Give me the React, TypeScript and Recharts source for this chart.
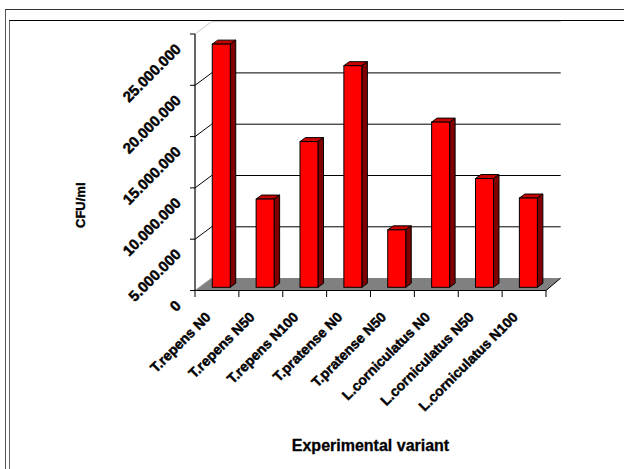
import React from 'react';
import { BarChart, Bar, XAxis, YAxis, CartesianGrid, Label } from 'recharts';

const categories = [
  'T.repens N0',
  'T.repens N50',
  'T.repens N100',
  'T.pratense N0',
  'T.pratense N50',
  'L.corniculatus N0',
  'L.corniculatus N50',
  'L.corniculatus N100',
];
const cfuValues = [23700000, 8600000, 14200000, 21600000, 5600000, 16100000, 10600000, 8700000];
const yTicks = [0, 5000000, 10000000, 15000000, 20000000, 25000000];

const data = categories.map((name, i) => ({ name, cfu: cfuValues[i] }));

const FONT = "'Liberation Sans', Arial, Helvetica, sans-serif";
const DEPTH_X = 16.7;
const DEPTH_Y = 12.4;
const BAR_SHIFT_X = 4.3;
const BAR_SHIFT_Y = 3.2;
const BAR_DX = 5.5;
const BAR_DY = 4;

const fmt = (v: number) => String(v).replace(/\B(?=(\d{3})+(?!\d))/g, '.');

function Bar3D(props: any) {
  const { x, y, width, height } = props;
  if (x == null || y == null) return null;
  const fx = x + BAR_SHIFT_X;
  const fy = y - BAR_SHIFT_Y;
  const bottom = fy + height;
  return (
    <g>
      <polygon
        points={`${fx},${fy} ${fx + BAR_DX},${fy - BAR_DY} ${fx + width + BAR_DX},${fy - BAR_DY} ${fx + width},${fy}`}
        fill="#c80000"
        stroke="#000"
        strokeWidth={1}
        strokeLinejoin="round"
      />
      <polygon
        points={`${fx + width},${fy} ${fx + width + BAR_DX},${fy - BAR_DY} ${fx + width + BAR_DX},${bottom - BAR_DY} ${fx + width},${bottom}`}
        fill="#800000"
        stroke="#000"
        strokeWidth={1}
        strokeLinejoin="round"
      />
      <rect x={fx} y={fy} width={width} height={height} fill="#ff0000" stroke="#000" strokeWidth={1} />
    </g>
  );
}

function GridLine(props: any) {
  const { x1, x2, y1 } = props;
  const top = props.y != null ? props.y : 34;
  const h = props.height != null ? props.height : 256.5;
  const isBottom = Math.abs(y1 - (top + h)) < 0.6;
  const isTop = Math.abs(y1 - top) < 0.6;
  const bx1 = x1 + DEPTH_X;
  const bx2 = x2 + DEPTH_X - 2;
  const by = y1 - DEPTH_Y;
  if (isBottom) {
    return (
      <g>
        <polygon points={`${x1},${y1} ${x2},${y1} ${bx2},${by} ${bx1},${by}`} fill="#808080" stroke="none" />
        <line x1={x1} y1={y1} x2={bx1} y2={by} stroke="#a0a0a0" strokeWidth={1} />
        <line x1={x2} y1={y1} x2={bx2} y2={by} stroke="#000" strokeWidth={1} />
      </g>
    );
  }
  const col = isTop ? '#c8c8c8' : '#000';
  return (
    <g>
      <line x1={x1} y1={y1} x2={bx1} y2={by} stroke={col} strokeWidth={1} />
      <line x1={bx1} y1={by} x2={bx2} y2={by} stroke={col} strokeWidth={1} />
    </g>
  );
}

const heavy = { stroke: '#000', strokeWidth: 0.45, paintOrder: 'stroke' as any };

function YTick(props: any) {
  const { x, y, payload } = props;
  return (
    <text
      transform={`translate(${x - 8},${y + 16}) rotate(-45)`}
      textAnchor="end"
      fontFamily={FONT}
      fontWeight="bold"
      fontSize={15}
      fill="#000"
      {...heavy}
    >
      {fmt(payload.value)}
    </text>
  );
}

function XTick(props: any) {
  const { x, y, payload, index } = props;
  const w = props.width != null ? props.width : 351;
  const bw = w / categories.length;
  return (
    <g>
      <line x1={x - bw / 2} y1={y} x2={x - bw / 2} y2={y + 6.5} stroke="#000" strokeWidth={1} />
      {index === categories.length - 1 ? (
        <line x1={x + bw / 2} y1={y} x2={x + bw / 2} y2={y + 6.5} stroke="#000" strokeWidth={1} />
      ) : null}
      <text
        transform={`translate(${x - 5.4},${y + 27.5}) rotate(-45)`}
        textAnchor="end"
        fontFamily={FONT}
        fontWeight="bold"
        fontSize={14}
        fill="#000"
        {...heavy}
      >
        {payload.value}
      </text>
    </g>
  );
}

export default function App() {
  return (
    <div style={{ position: 'absolute', left: 0, top: 0, width: 624, height: 469, background: '#fff', overflow: 'hidden' }}>
      <div style={{ position: 'absolute', left: 5, top: 9, width: 700, height: 600, borderLeft: '1.5px solid #555', borderTop: '1.6px solid #333' }} />
      <div style={{ position: 'absolute', left: 9, top: 20, width: 700, height: 600, borderLeft: '1.5px solid #666', borderTop: '1.4px solid #000' }} />
      <div style={{ position: 'absolute', left: 0, top: 0 }}>
        <BarChart
          width={624}
          height={469}
          data={data}
          margin={{ top: 34, right: 78, bottom: 38.5, left: 65 }}
          barCategoryGap="29.5%"
        >
          <CartesianGrid horizontal={GridLine as any} vertical={false} />
          <XAxis
            dataKey="name"
            interval={0}
            height={140}
            tickLine={false}
            tickSize={0}
            tickMargin={0}
            axisLine={{ stroke: '#000', strokeWidth: 1.2 }}
            tick={<XTick />}
          >
            <Label
              content={(p: any) => {
                const vb = p.viewBox || { x: 195, y: 290.5, width: 351 };
                return (
                  <text
                    x={vb.x + vb.width / 2}
                    y={vb.y + 160}
                    textAnchor="middle"
                    fontFamily={FONT}
                    fontWeight="bold"
                    fontSize={16}
                    fill="#000"
                    stroke="#000"
                    strokeWidth={0.3}
                  >
                    Experimental variant
                  </text>
                );
              }}
            />
          </XAxis>
          <YAxis
            width={130}
            domain={[0, 25000000]}
            ticks={yTicks}
            interval={0}
            tickSize={5}
            tickMargin={0}
            axisLine={{ stroke: '#000', strokeWidth: 1.2 }}
            tickLine={{ stroke: '#000' }}
            tick={<YTick />}
          >
            <Label
              content={(p: any) => {
                const vb = p.viewBox || { x: 65, y: 34, height: 256.5 };
                const cx = vb.x + 15.5;
                const cy = vb.y + vb.height / 2 + 43;
                return (
                  <text
                    transform={`translate(${cx},${cy}) rotate(-90)`}
                    textAnchor="middle"
                    dominantBaseline="central"
                    fontFamily={FONT}
                    fontWeight="bold"
                    fontSize={13}
                    fill="#000"
                    stroke="#000"
                    strokeWidth={0.4}
                  >
                    CFU/ml
                  </text>
                );
              }}
            />
          </YAxis>
          <Bar dataKey="cfu" shape={<Bar3D />} isAnimationActive={false} />
        </BarChart>
      </div>
    </div>
  );
}
